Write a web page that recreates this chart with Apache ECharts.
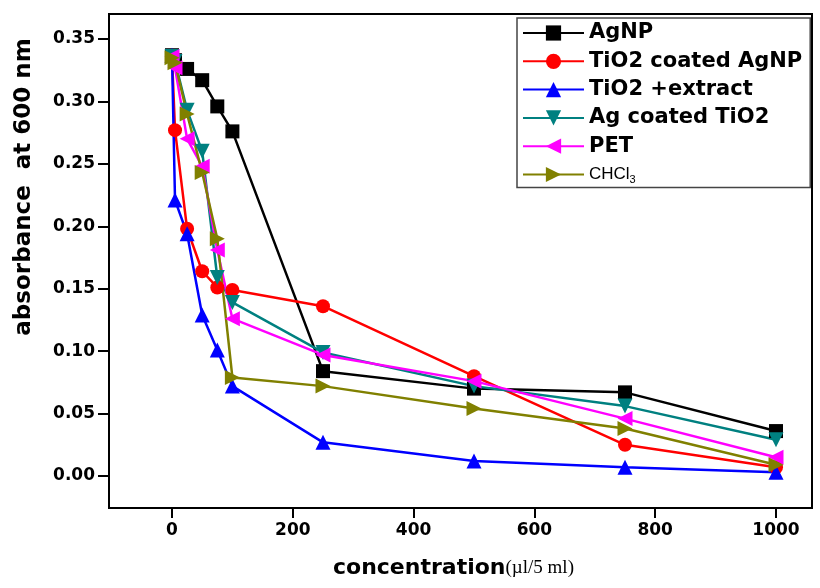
<!DOCTYPE html>
<html>
<head>
<meta charset="utf-8">
<script src="https://cdn.jsdelivr.net/npm/echarts@6/dist/echarts.min.js"></script>
<style>
html,body{margin:0;padding:0;background:#fff;}
#chart{width:820px;height:588px;}
</style>
</head>
<body>
<div id="chart"></div>
<script>
// ---- data ----
const concentration = [0, 5, 25, 50, 75, 100, 250, 500, 750, 1000];
const agnp      = [0.337, 0.333, 0.326, 0.317, 0.296, 0.276, 0.084, 0.070, 0.067, 0.036];
const tio2AgNP  = [0.336, 0.277, 0.198, 0.164, 0.151, 0.149, 0.136, 0.080, 0.025, 0.007];
const tio2Ext   = [0.337, 0.221, 0.194, 0.129, 0.101, 0.072, 0.027, 0.012, 0.007, 0.003];
const agTiO2    = [0.336, 0.332, 0.293, 0.260, 0.159, 0.139, 0.099, 0.072, 0.056, 0.029];
const pet       = [0.336, 0.327, 0.270, 0.248, 0.181, 0.126, 0.097, 0.076, 0.046, 0.015];
const chcl3     = [0.335, 0.331, 0.290, 0.243, 0.190, 0.079, 0.072, 0.054, 0.038, 0.009];
const xTicks = [0, 200, 400, 600, 800, 1000];
const yTicks = [0, 0.05, 0.10, 0.15, 0.20, 0.25, 0.30, 0.35];
const seriesNames = ['AgNP', 'TiO2 coated AgNP', 'TiO2 +extract', 'Ag coated TiO2', 'PET', 'CHCl3'];

const pair = arr => concentration.map((c, i) => [c, arr[i]]);
const FONT = 'DejaVu Sans';

function mk(name, data, color, symbol, rot, size) {
  return {
    name, type: 'line', data: pair(data),
    symbol, symbolRotate: rot, symbolSize: size,
    lineStyle: { color, width: 2.5 },
    itemStyle: { color },
    emphasis: { disabled: true },
    animation: false
  };
}

const chart = echarts.init(document.getElementById('chart'));
chart.setOption({
  backgroundColor: '#fff',
  animation: false,
  grid: { left: 109, top: 14, right: 8, bottom: 80, show: true, borderColor: '#000', borderWidth: 2 },
  xAxis: {
    type: 'value', min: -104.3, max: 1059.6,
    splitLine: { show: false },
    axisLine: { onZero: false, lineStyle: { color: '#000', width: 2 } },
    axisTick: { customValues: xTicks, length: 10, lineStyle: { color: '#000', width: 2 } },
    axisLabel: { customValues: xTicks, margin: 14, color: '#000', fontFamily: FONT, fontWeight: 'bold', fontSize: 17,
      formatter: v => String(v) }
  },
  yAxis: {
    type: 'value', min: -0.0256, max: 0.3700,
    splitLine: { show: false },
    axisLine: { onZero: false, lineStyle: { color: '#000', width: 2 } },
    axisTick: { customValues: yTicks, length: 11, lineStyle: { color: '#000', width: 2 } },
    axisLabel: { customValues: yTicks, margin: 14, color: '#000', fontFamily: FONT, fontWeight: 'bold', fontSize: 17,
      formatter: v => v.toFixed(2) }
  },
  legend: {
    orient: 'vertical', left: 517, top: 18,
    padding: [4, 8, 2, 5],
    itemWidth: 61, itemHeight: 19, itemGap: 6.3,
    backgroundColor: '#fff', borderColor: '#444', borderWidth: 1.5,
    data: seriesNames,
    textStyle: {
      color: '#000', fontFamily: FONT, fontWeight: 'bold', fontSize: 21, lineHeight: 22,
      rich: {
        c: { fontFamily: 'Liberation Sans Narrow, Liberation Sans', fontWeight: 'normal', fontSize: 17, color: '#000' },
        s: { fontFamily: 'Liberation Sans Narrow, Liberation Sans', fontWeight: 'normal', fontSize: 11, color: '#000', verticalAlign: 'bottom', padding: [8, 0, 0, 0] }
      }
    },
    formatter: n => n === 'CHCl3' ? '{c|CHCl}{s|3}' : n
  },
  graphic: [
    { type: 'text', x: 24, y: 187, rotation: Math.PI / 2,
      style: { text: 'absorbance  at 600 nm', font: 'bold 23px "DejaVu Sans"', fill: '#000', align: 'center', verticalAlign: 'middle' } },
    { type: 'text', x: 333, y: 568,
      style: { rich: {
          a: { font: 'bold 22px "DejaVu Sans"', fill: '#000' },
          b: { font: '19px "Liberation Serif"', fill: '#000' } },
        text: '{a|concentration}{b|(µl/5 ml)}', verticalAlign: 'middle', fill: '#000' } }
  ],
  series: [
    mk('AgNP', agnp, '#000000', 'rect', 0, 14),
    mk('TiO2 coated AgNP', tio2AgNP, '#ff0000', 'circle', 0, 14),
    mk('TiO2 +extract', tio2Ext, '#0000ff', 'triangle', 0, 15),
    mk('Ag coated TiO2', agTiO2, '#008080', 'triangle', 180, 15),
    mk('PET', pet, '#ff00ff', 'triangle', 90, 15),
    mk('CHCl3', chcl3, '#808000', 'triangle', -90, 15)
  ]
});
</script>
</body>
</html>
